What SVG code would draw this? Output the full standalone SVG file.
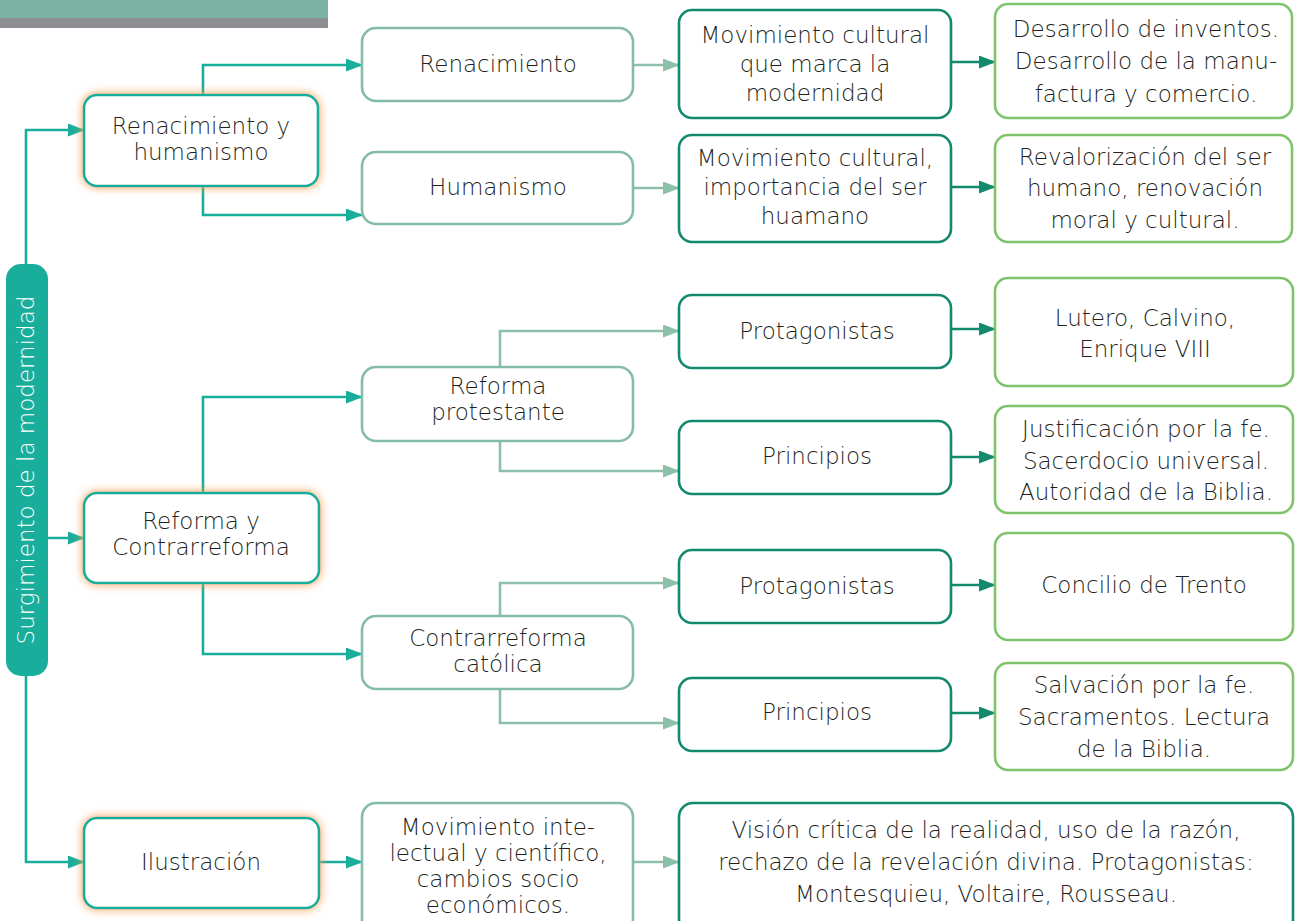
<svg xmlns="http://www.w3.org/2000/svg" width="1298" height="921" viewBox="0 0 1298 921">
<defs>
<style>
text{font-family:"DejaVu Sans","Liberation Sans",sans-serif;font-size:23px;font-weight:300;fill:#231f20;text-anchor:middle;}
.l1{fill:#fff;stroke:#19ad9b;stroke-width:2.6;filter:url(#glow);}
.l2{fill:#fff;stroke:#85bba9;stroke-width:2.6;}
.l3{fill:#fff;stroke:#138a6d;stroke-width:2.6;}
.l4{fill:#fff;stroke:#7fc36c;stroke-width:2.6;}
.c1{fill:none;stroke:#19ad9b;stroke-width:2.6;marker-end:url(#a1);}
.c2{fill:none;stroke:#8dc0aa;stroke-width:2.6;marker-end:url(#a2);}
.c3{fill:none;stroke:#138a6d;stroke-width:2.6;marker-end:url(#a3);}
</style>
<filter id="glow" x="-20%" y="-30%" width="140%" height="160%">
<feDropShadow dx="0" dy="0" stdDeviation="5" flood-color="#f59a4a" flood-opacity="1"/>
</filter>
<marker id="a1" viewBox="0 0 17 13" refX="16" refY="6.5" markerWidth="17" markerHeight="13" markerUnits="userSpaceOnUse" orient="auto"><path d="M0,0 L17,6.5 L0,13 Z" fill="#19ad9b"/></marker>
<marker id="a2" viewBox="0 0 17 13" refX="16" refY="6.5" markerWidth="17" markerHeight="13" markerUnits="userSpaceOnUse" orient="auto"><path d="M0,0 L17,6.5 L0,13 Z" fill="#8dc0aa"/></marker>
<marker id="a3" viewBox="0 0 17 13" refX="16" refY="6.5" markerWidth="17" markerHeight="13" markerUnits="userSpaceOnUse" orient="auto"><path d="M0,0 L17,6.5 L0,13 Z" fill="#138a6d"/></marker>
</defs>
<rect width="1298" height="921" fill="#fff"/>
<g id="header">
<rect x="0" y="0" width="328" height="18" fill="#7ab3a3"/>
<rect x="0" y="18" width="328" height="10" fill="#8d8e92"/>
</g>
<g id="connectors">
<path class="c1" d="M26,264 V130 H84"/>
<path class="c1" d="M48,538 H84"/>
<path class="c1" d="M26,676 V862 H84"/>
<path class="c1" d="M203,95 V65 H362"/>
<path class="c1" d="M203,186 V215 H362"/>
<path class="c1" d="M203,493 V397 H362"/>
<path class="c1" d="M203,583 V654 H362"/>
<path class="c1" d="M318,862 H362"/>
<path class="c2" d="M633,65 H679"/>
<path class="c2" d="M633,188 H679"/>
<path class="c2" d="M500,367 V331 H679"/>
<path class="c2" d="M500,441 V471 H679"/>
<path class="c2" d="M500,616 V583 H679"/>
<path class="c2" d="M500,689 V723 H679"/>
<path class="c2" d="M633,862 H679"/>
<path class="c3" d="M951,62 H995"/>
<path class="c3" d="M951,187 H995"/>
<path class="c3" d="M951,329 H995"/>
<path class="c3" d="M951,457 H995"/>
<path class="c3" d="M951,585 H995"/>
<path class="c3" d="M951,713 H995"/>
</g>
<g id="root">
<rect x="6" y="264" width="42" height="412" rx="15" fill="#19ad9b"/>
<text transform="translate(34,470) rotate(-90)" style="fill:#fff">Surgimiento de la modernidad</text>
</g>
<g id="n-renhum"><rect class="l1" x="84" y="95" width="234" height="91" rx="13"/><text x="201" y="134">Renacimiento y</text><text x="201" y="160">humanismo</text></g>
<g id="n-refcon"><rect class="l1" x="84" y="493" width="235" height="90" rx="13"/><text x="201" y="529">Reforma y</text><text x="201" y="555">Contrarreforma</text></g>
<g id="n-ilus"><rect class="l1" x="84" y="818" width="235" height="90" rx="13"/><text x="201" y="870">Ilustración</text></g>
<g id="n-ren"><rect class="l2" x="362" y="28" width="271" height="73" rx="14"/><text x="498" y="72">Renacimiento</text></g>
<g id="n-hum"><rect class="l2" x="362" y="152" width="271" height="72" rx="14"/><text x="498" y="195">Humanismo</text></g>
<g id="n-refprot"><rect class="l2" x="362" y="367" width="271" height="74" rx="14"/><text x="498" y="394">Reforma</text><text x="498" y="420">protestante</text></g>
<g id="n-contcat"><rect class="l2" x="362" y="616" width="271" height="73" rx="14"/><text x="498" y="646">Contrarreforma</text><text x="498" y="672">católica</text></g>
<g id="n-movint"><rect class="l2" x="362" y="803" width="271" height="130" rx="14"/><text x="498" y="835">Movimiento inte-</text><text x="498" y="861">lectual y científico,</text><text x="498" y="887">cambios socio</text><text x="498" y="913">económicos.</text></g>
<g id="n-movcult1"><rect class="l3" x="679" y="10" width="272" height="108" rx="13"/><text x="815" y="43">Movimiento cultural</text><text x="815" y="72">que marca la</text><text x="815" y="101">modernidad</text></g>
<g id="n-movcult2"><rect class="l3" x="679" y="135" width="272" height="107" rx="13"/><text x="815" y="166">Movimiento cultural,</text><text x="815" y="195">importancia del ser</text><text x="815" y="224">huamano</text></g>
<g id="n-prot1"><rect class="l3" x="679" y="295" width="272" height="73" rx="13"/><text x="817" y="339">Protagonistas</text></g>
<g id="n-prin1"><rect class="l3" x="679" y="421" width="272" height="73" rx="13"/><text x="817" y="464">Principios</text></g>
<g id="n-prot2"><rect class="l3" x="679" y="550" width="272" height="73" rx="13"/><text x="817" y="594">Protagonistas</text></g>
<g id="n-prin2"><rect class="l3" x="679" y="678" width="272" height="73" rx="13"/><text x="817" y="720">Principios</text></g>
<g id="n-vision"><rect class="l3" x="679" y="803" width="614" height="130" rx="14"/><text x="986" y="838">Visión crítica de la realidad, uso de la razón,</text><text x="986" y="870">rechazo de la revelación divina. Protagonistas:</text><text x="986" y="902">Montesquieu, Voltaire, Rousseau.</text></g>
<g id="n-desarrollo"><rect class="l4" x="995" y="4" width="297" height="114" rx="13"/><text x="1146" y="37">Desarrollo de inventos.</text><text x="1146" y="69">Desarrollo de la manu-</text><text x="1146" y="102">factura y comercio.</text></g>
<g id="n-revalor"><rect class="l4" x="995" y="135" width="297" height="107" rx="13"/><text x="1145" y="165">Revalorización del ser</text><text x="1145" y="196">humano, renovación</text><text x="1145" y="228">moral y cultural.</text></g>
<g id="n-lutero"><rect class="l4" x="995" y="278" width="298" height="108" rx="13"/><text x="1145" y="326">Lutero, Calvino,</text><text x="1145" y="357">Enrique VIII</text></g>
<g id="n-justif"><rect class="l4" x="995" y="406" width="298" height="107" rx="13"/><text x="1146" y="437">Justificación por la fe.</text><text x="1146" y="469">Sacerdocio universal.</text><text x="1146" y="500">Autoridad de la Biblia.</text></g>
<g id="n-concilio"><rect class="l4" x="995" y="533" width="298" height="107" rx="13"/><text x="1144" y="593">Concilio de Trento</text></g>
<g id="n-salv"><rect class="l4" x="995" y="663" width="298" height="107" rx="13"/><text x="1144" y="693">Salvación por la fe.</text><text x="1144" y="725">Sacramentos. Lectura</text><text x="1144" y="757">de la Biblia.</text></g>
</svg>
